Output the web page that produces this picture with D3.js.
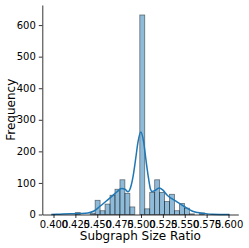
<!DOCTYPE html>
<html>
<head>
<meta charset="utf-8">
<script src="https://cdn.jsdelivr.net/npm/d3@7"></script>
<style>
  body { margin: 0; background: #fff; }
  svg text { font-family: "DejaVu Sans", sans-serif; fill: #000; }
</style>
</head>
<body>
<div id="chart"></div>
<script>
// histogram bins (subgraph size ratio)
var binStart = 0.4249, binWidth = 0.00567;
var counts = [6, 0, 0, 4, 45, 12, 33, 61, 80, 110, 67, 24, 0, 632,
              18, 70, 110, 70, 41, 64, 12, 35, 20, 2, 0, 5];

// kde curve
var kdeX = [0.3974, 0.4074, 0.4189, 0.4303, 0.4394, 0.4463, 0.4531, 0.4600, 0.4669, 0.4726,
            0.4777, 0.4817, 0.4851, 0.4880, 0.4909, 0.4937, 0.4966, 0.4997, 0.5029, 0.5057,
            0.5086, 0.5109, 0.5126, 0.5160, 0.5206, 0.5251, 0.5297, 0.5354, 0.5411, 0.5469,
            0.5526, 0.5583, 0.5651, 0.5731, 0.5811, 0.6010];
var kdeY = [0, 1, 2, 3, 5, 11, 26, 42, 58, 72,
            82, 80, 72, 85, 120, 172, 230, 261, 232, 172,
            115, 80, 73, 76, 84, 77, 62, 50, 40, 30,
            20, 11, 6, 3, 1, 0];

var xTicks = [0.400, 0.425, 0.450, 0.475, 0.500, 0.525, 0.550, 0.575, 0.600];
var yTicks = [0, 100, 200, 300, 400, 500, 600];

var width = 249, height = 248;
var margin = {top: 5, right: 10.7, bottom: 33.5, left: 42.3};

var svg = d3.select("#chart").append("svg")
    .attr("width", width)
    .attr("height", height);

var w = width - margin.left - margin.right,
    h = height - margin.top - margin.bottom;

var g = svg.append("g")
    .attr("transform", "translate(" + margin.left + "," + margin.top + ")");

var bins = counts.map(function(c, i) {
    return {x0: binStart + i * binWidth, x1: binStart + (i + 1) * binWidth, count: c};
});

var xScale = d3.scaleLinear().domain([0.3872, 0.6112]).range([0, w]);
var yScale = d3.scaleLinear().domain([0, d3.max(counts) * 1.05]).range([h, 0]);

g.selectAll(".bar")
    .data(bins)
    .enter().append("rect")
    .attr("class", "bar")
    .attr("x", function(d) { return xScale(d.x0); })
    .attr("y", function(d) { return yScale(d.count); })
    .attr("width", function(d) { return xScale(d.x1) - xScale(d.x0); })
    .attr("height", function(d) { return h - yScale(d.count); })
    .attr("fill", "#1f77b4")
    .attr("fill-opacity", 0.5)
    .attr("stroke", "#000")
    .attr("stroke-opacity", 0.5)
    .attr("stroke-width", 0.8);

var line = d3.line()
    .x(function(d) { return xScale(d[0]); })
    .y(function(d) { return yScale(d[1]); })
    .curve(d3.curveMonotoneX);

g.append("path")
    .datum(kdeX.map(function(v, i) { return [v, kdeY[i]]; }))
    .attr("d", line)
    .attr("fill", "none")
    .attr("stroke", "#1f77b4")
    .attr("stroke-width", 1.5);

var xAxis = g.append("g")
    .attr("transform", "translate(0," + h + ")")
    .call(d3.axisBottom(xScale).tickValues(xTicks).tickFormat(d3.format(".3f"))
        .tickSize(3.5).tickPadding(3).tickSizeOuter(0));

var yAxis = g.append("g")
    .call(d3.axisLeft(yScale).tickValues(yTicks)
        .tickSize(3.5).tickPadding(3).tickSizeOuter(0));

[xAxis, yAxis].forEach(function(a) {
    a.selectAll("text").attr("font-size", "10px").attr("font-family", "DejaVu Sans");
    a.selectAll("line").attr("stroke", "#000").attr("stroke-width", 0.8);
    a.select(".domain").attr("stroke", "#000").attr("stroke-width", 0.8);
});

svg.append("text")
    .attr("x", margin.left + w / 2)
    .attr("y", 240)
    .attr("text-anchor", "middle")
    .attr("font-size", "12px")
    .text("Subgraph Size Ratio");

svg.append("text")
    .attr("transform", "translate(15," + (margin.top + h / 2) + ") rotate(-90)")
    .attr("text-anchor", "middle")
    .attr("font-size", "12px")
    .text("Frequency");
</script>
</body>
</html>
